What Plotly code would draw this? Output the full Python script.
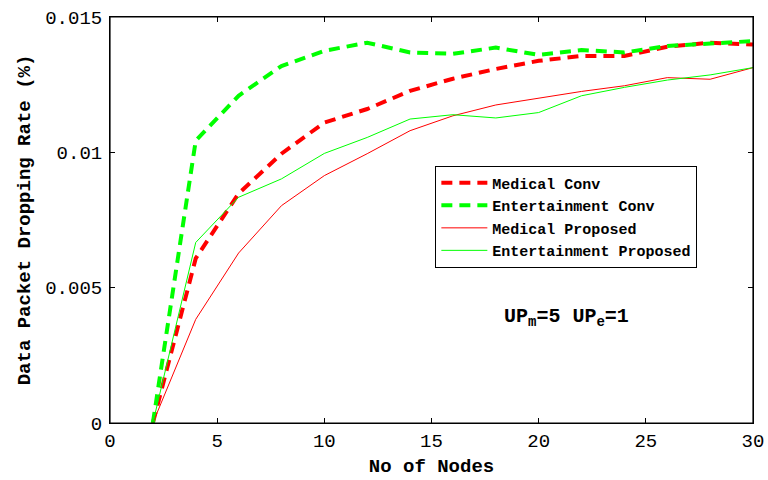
import plotly.graph_objects as go

nodes = [2, 4, 6, 8, 10, 12, 14, 16, 18, 20, 22, 24, 26, 28, 30]
medical_conv = [0, 0.00608, 0.00848, 0.00995, 0.0111, 0.0116, 0.01227, 0.01272, 0.01308, 0.01338, 0.01356, 0.01356, 0.0139, 0.01405, 0.01398]
entertainment_conv = [0, 0.01043, 0.01209, 0.01319, 0.01375, 0.01405, 0.01369, 0.01364, 0.01387, 0.0136, 0.01378, 0.01369, 0.01393, 0.01403, 0.01411]
medical_prop = [0, 0.00383, 0.00628, 0.00803, 0.00914, 0.00995, 0.0108, 0.01135, 0.01175, 0.0120, 0.01225, 0.01246, 0.01276, 0.0127, 0.01313]
entertainment_prop = [0, 0.00667, 0.00834, 0.00902, 0.00996, 0.01055, 0.01123, 0.01139, 0.01127, 0.01147, 0.01209, 0.0124, 0.01267, 0.01286, 0.01313]

xticks = [0, 5, 10, 15, 20, 25, 30]
yticks = [0, 0.005, 0.01, 0.015]
ytick_labels = ["0", "0.005", "0.01", "0.015"]

RED = "#FF0000"
GREEN = "#00FF00"
mono = "Liberation Mono, Courier New, monospace"

fig = go.Figure()
fig.add_trace(go.Scatter(x=nodes, y=medical_conv, mode="lines", name="Medical Conv",
                         line=dict(color=RED, width=4, dash="11px,7px")))
fig.add_trace(go.Scatter(x=nodes, y=entertainment_conv, mode="lines", name="Entertainment Conv",
                         line=dict(color=GREEN, width=4, dash="11px,7px")))
fig.add_trace(go.Scatter(x=nodes, y=medical_prop, mode="lines", name="Medical Proposed",
                         line=dict(color=RED, width=1)))
fig.add_trace(go.Scatter(x=nodes, y=entertainment_prop, mode="lines", name="Entertainment Proposed",
                         line=dict(color=GREEN, width=1)))

fig.add_annotation(x=21.3, y=0.0039, xref="x", yref="y", showarrow=False,
                   text="UP<sub>m</sub>=5 UP<sub>e</sub>=1",
                   font=dict(family=mono, size=20, color="black", weight="bold"))

# plot frame
fig.add_shape(type="rect", xref="paper", yref="paper", x0=0, x1=1, y0=0, y1=1,
              line=dict(color="black", width=1.2), layer="above")

axis_common = dict(showgrid=False, zeroline=False, showline=True, linecolor="black", linewidth=1,
                   mirror="ticks", ticks="inside", ticklen=5, tickcolor="black", automargin=False,
                   ticklabeloverflow="allow",
                   tickfont=dict(family=mono, size=19, color="black"))

fig.update_xaxes(range=[0, 30], tickvals=xticks,
                 title=dict(text="No of Nodes", font=dict(family=mono, size=19, color="black", weight="bold"), standoff=6),
                 **axis_common)
fig.update_yaxes(range=[0, 0.015], tickvals=yticks, ticktext=ytick_labels, ticklabelstandoff=3,
                 title=dict(text="Data Packet Dropping Rate (%)", font=dict(family=mono, size=19, color="black", weight="bold"), standoff=9),
                 **axis_common)

fig.update_layout(
    width=768, height=480,
    margin=dict(l=110, r=15, t=17, b=57),
    plot_bgcolor="white", paper_bgcolor="white",
    legend=dict(x=0.506, y=0.634, xanchor="left", yanchor="top",
                bordercolor="black", borderwidth=1, bgcolor="white",
                font=dict(family=mono, size=15, color="black", weight="bold"),
                tracegroupgap=0, itemwidth=46),
)
fig.write_html("out.html", config={"displayModeBar": False},
               post_script="document.body.style.margin='0';document.body.style.overflow='hidden';")
